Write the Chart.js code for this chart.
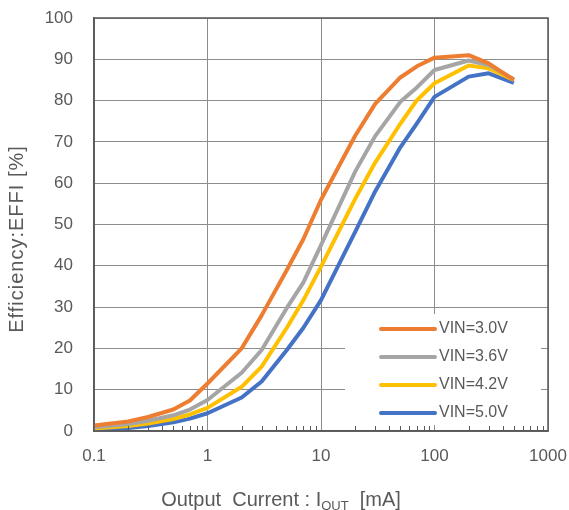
<!DOCTYPE html>
<html>
<head>
<meta charset="utf-8">
<script src="https://cdn.jsdelivr.net/npm/chart.js@4"></script>
<style>
  html, body { margin: 0; padding: 0; background: #fff; }
  #wrap { width: 569px; height: 510px; position: relative; }
</style>
</head>
<body>
<div id="wrap"><canvas id="effChart"></canvas></div>
<script>
// output current [mA]
const currents = [0.1, 0.2, 0.3, 0.5, 0.7, 1, 2, 3, 5, 7, 10, 20, 30, 50, 70, 100, 200, 300, 500];
// efficiency [%] per input voltage
const vin30 = [1.3, 2.3, 3.4, 5.2, 7.4, 11.5, 20, 28, 39, 46.5, 56, 71.5, 79.2, 85.6, 88.3, 90.4, 91, 89, 85];
const vin36 = [0.9, 1.7, 2.5, 3.8, 5.2, 7.5, 14.1, 19.6, 29.8, 36, 45, 62.8, 71.4, 79.7, 83.2, 87.4, 89.7, 88.6, 85.2];
const vin42 = [0.6, 1.2, 1.8, 2.9, 4.0, 5.6, 10.7, 15.6, 25, 31.7, 39.8, 56.2, 65, 74.4, 80.1, 84.2, 88.5, 87.8, 85];
const vin50 = [0.3, 0.7, 1.2, 2.1, 3.0, 4.3, 8.1, 12, 19.6, 25, 31.7, 48.2, 58, 68.7, 74.5, 80.9, 85.8, 86.6, 84.3];

const seriesNames = ['VIN=3.0V', 'VIN=3.6V', 'VIN=4.2V', 'VIN=5.0V'];
const seriesColors = ['#ED7D31', '#A5A5A5', '#FFC000', '#4472C4'];
const seriesValues = [vin30, vin36, vin42, vin50];

const xTickValues = [0.1, 1, 10, 100, 1000];
const xTickLabels = ['0.1', '1', '10', '100', '1000'];
const yTitle = 'Efficiency:EFFI [%]';

const textColor = '#595959';
const gridColor = '#8c8c8c';

const datasets = seriesValues.map((vals, i) => ({
  label: seriesNames[i],
  data: currents.map((c, j) => ({ x: c, y: vals[j] })),
  borderColor: seriesColors[i],
  backgroundColor: seriesColors[i],
  borderWidth: 4,
  pointRadius: 0,
  tension: 0,
  borderJoinStyle: 'round',
  fill: false
}));

// legend, axis titles, minor ticks and frame
const decorPlugin = {
  id: 'decor',
  afterDraw(chart) {
    const ctx = chart.ctx;
    const area = chart.chartArea;
    const xs = chart.scales.x;
    ctx.save();

    // legend box inside plot, lower right
    const lx = area.right - 203, ly = area.bottom - 117;
    ctx.fillStyle = '#fff';
    ctx.fillRect(lx, ly, 196, 111);
    ctx.font = '16px "Liberation Sans", Arial, sans-serif';
    ctx.textBaseline = 'middle';
    ctx.textAlign = 'left';
    seriesNames.forEach((name, i) => {
      const y = ly + 15 + i * 28;
      ctx.strokeStyle = seriesColors[i];
      ctx.lineWidth = 4;
      ctx.lineCap = 'round';
      ctx.beginPath();
      ctx.moveTo(lx + 36, y);
      ctx.lineTo(lx + 90, y);
      ctx.stroke();
      ctx.fillStyle = textColor;
      ctx.fillText(name, lx + 94, y);
    });

    // minor ticks on the x axis, pointing inward
    ctx.strokeStyle = textColor;
    ctx.lineWidth = 1;
    ctx.lineCap = 'butt';
    for (let d = 0; d < xTickValues.length - 1; d++) {
      for (let m = 2; m <= 9; m++) {
        const px = Math.round(xs.getPixelForValue(xTickValues[d] * m)) + 0.5;
        ctx.beginPath();
        ctx.moveTo(px, area.bottom);
        ctx.lineTo(px, area.bottom - 5);
        ctx.stroke();
      }
    }

    // frame
    ctx.lineWidth = 1.5;
    ctx.strokeRect(area.left, area.top, area.right - area.left, area.bottom - area.top);

    // y title
    ctx.fillStyle = textColor;
    ctx.save();
    ctx.translate(17, 239);
    ctx.rotate(-Math.PI / 2);
    ctx.font = '20px "Liberation Sans", Arial, sans-serif';
    ctx.letterSpacing = '1px';
    ctx.textAlign = 'center';
    ctx.textBaseline = 'middle';
    ctx.fillText(yTitle, 0, 0);
    ctx.restore();

    // x title with subscript
    const big = '20px "Liberation Sans", Arial, sans-serif';
    const small = '13px "Liberation Sans", Arial, sans-serif';
    const p1 = 'Output  Current : I', p2 = 'OUT', p3 = '  [mA]';
    ctx.textBaseline = 'alphabetic';
    ctx.textAlign = 'left';
    ctx.font = big;
    const w1 = ctx.measureText(p1).width, w3 = ctx.measureText(p3).width;
    ctx.font = small;
    const w2 = ctx.measureText(p2).width;
    let tx = 281 - (w1 + w2 + w3) / 2;
    const base = 506;
    ctx.font = big;
    ctx.fillText(p1, tx, base);
    tx += w1;
    ctx.font = small;
    ctx.fillText(p2, tx, base + 4);
    tx += w2;
    ctx.font = big;
    ctx.fillText(p3, tx, base);

    ctx.restore();
  }
};

new Chart(document.getElementById('effChart'), {
  type: 'line',
  data: { datasets },
  options: {
    responsive: true,
    maintainAspectRatio: false,
    animation: false,
    layout: { padding: { top: 18, right: 21, left: 0, bottom: 0 } },
    plugins: {
      legend: { display: false },
      tooltip: { enabled: false }
    },
    scales: {
      x: {
        type: 'logarithmic',
        min: 0.1,
        max: 1000,
        afterBuildTicks: s => { s.ticks = xTickValues.map(v => ({ value: v })); },
        afterFit: s => { s.height = 79; s.paddingLeft = 0; s.paddingRight = 0; },
        ticks: {
          autoSkip: false,
          maxRotation: 0,
          padding: 15,
          color: textColor,
          font: { family: '"Liberation Sans", Arial, sans-serif', size: 17 },
          callback: (v, i) => xTickLabels[i]
        },
        grid: { color: gridColor, lineWidth: 1, drawTicks: false },
        border: { color: textColor, width: 1.5 }
      },
      y: {
        min: 0,
        max: 100,
        afterFit: s => { s.width = 94; s.paddingTop = 0; s.paddingBottom = 0; },
        ticks: {
          stepSize: 10,
          padding: 21,
          color: textColor,
          font: { family: '"Liberation Sans", Arial, sans-serif', size: 17 }
        },
        grid: { color: gridColor, lineWidth: 1, drawTicks: false },
        border: { color: textColor, width: 1.5 }
      }
    }
  },
  plugins: [decorPlugin]
});
</script>
</body>
</html>
